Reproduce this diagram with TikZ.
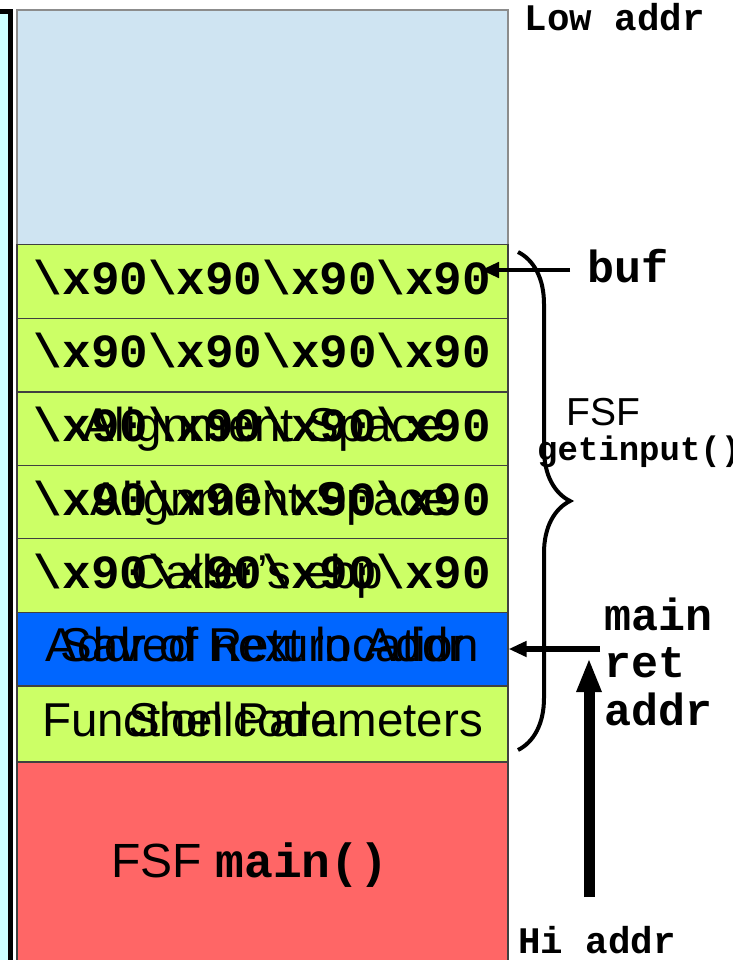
\documentclass[tikz,border=0pt]{standalone}
\usepackage{fontspec}
\setsansfont{Liberation Sans}
\setmonofont{Liberation Mono}
\usetikzlibrary{arrows.meta,decorations.pathreplacing}
\definecolor{lowblue}{HTML}{CFE4F2}
\definecolor{nopgreen}{HTML}{CCFF66}
\definecolor{retblue}{HTML}{0066FF}
\definecolor{mainred}{HTML}{FF6666}
\definecolor{sidecyan}{HTML}{CCFFFF}
\newcommand\nopsled{\textbackslash x90\textbackslash x90\textbackslash x90\textbackslash x90}
\tikzset{
  stack cell/.style={
    draw=black!75,
    line width=1.2pt,
    minimum width=491pt,
    minimum height=73.5pt,
    inner sep=0pt,
    text height=34pt,
    text depth=9pt,
    font=\sffamily\fontsize{47.5}{57}\selectfont
  },
  cell text/.style={
    inner sep=0pt,
    text height=34pt,
    text depth=9pt,
    font=\sffamily\fontsize{47.5}{57}\selectfont
  },
  code/.style={font=\ttfamily\bfseries\fontsize{47.6}{57}\selectfont},
  side code/.style={inner sep=0pt, font=\ttfamily\bfseries\fontsize{#1}{47.5}\selectfont},
  pointer/.style={line width=#1, -{Triangle[length=18pt,width=15pt]}},
}

\begin{document}
\begin{tikzpicture}[x=1pt,y=-1pt]
\useasboundingbox (0,0) rectangle (732,960);
\draw[line width=5pt,fill=sidecyan] (-30,12) rectangle (10,1000);
% the stack, low addresses on top
\node (low) at (262.5,127.5) [stack cell,fill=lowblue,draw=black!45,minimum height=235pt] {};
\node (c1) at (262.5,281.5) [stack cell,fill=nopgreen,code] {\nopsled};
\node (c2) at (262.5,355) [stack cell,fill=nopgreen,code] {\nopsled};
\node (c3) at (262.5,429) [stack cell,fill=nopgreen,code] {\nopsled};
\node (c4) at (262.5,502.5) [stack cell,fill=nopgreen,code] {\nopsled};
\node (c5) at (262.5,575.5) [stack cell,fill=nopgreen,code] {\nopsled};
\node (c6) at (262.5,649) [stack cell,fill=retblue] {Saved Return Addr};
\node (c7) at (262.5,724) [stack cell,fill=nopgreen,minimum height=76pt] {Function Parameters};
\node (c8) at (262.5,881) [stack cell,fill=mainred,minimum height=238pt] {};
% what was there before
\node (over3) at (c3) [cell text] {Alignment Space};
\node (over4) at ([xshift=8pt]c4.center) [cell text] {Alignment Space};
\node (over5) at ([xshift=-5pt]c5.center) [cell text] {Caller's ebp};
\node (over6) at (c6) [cell text] {Addr of next location};
\node (over7) at ([xshift=-30pt]c7.center) [cell text] {Shellcode};
\node (fsfmain) at (250,877) [anchor=base,font=\sffamily\fontsize{48}{57}\selectfont]
  {FSF {\ttfamily\bfseries main()}};
% right hand side
\node (lowaddr) at (615,31) [anchor=base,side code=37.5] {Low addr};
\node (hiaddr) at (597,953) [anchor=base,side code=37.5] {Hi addr};
\node (buf) at (587,282) [anchor=base west,side code=45] {buf};
\node (fsf) at (603,425) [anchor=base,inner sep=0pt,font=\sffamily\fontsize{39}{47}\selectfont] {FSF};
\node (fsfname) at (537,460) [anchor=base west,side code=34] {getinput()};
\node (retaddr) at (604,725) [anchor=base west,side code=45,align=left] {main\\ret\\addr};
\coordinate (fsftop) at (518,252);
\coordinate (fsfbot) at (518,750);
\coordinate (bufend) at (481,270);
\coordinate (retfrom) at (600,649);
\coordinate (growfrom) at (589,897);
\coordinate (growto) at (589,658);
\draw[line width=4pt,decorate,decoration={brace,amplitude=52pt}] (fsftop) -- (fsfbot);
\draw[pointer=4.5pt] ([xshift=-17pt]bufend -| buf.west) -- (bufend);
\draw[pointer=5.5pt] (retfrom) -- (c6.east);
\draw[line width=11pt,-{Triangle[length=34pt,width=23pt]}] (growfrom) -- (growto);
\end{tikzpicture}
\end{document}
